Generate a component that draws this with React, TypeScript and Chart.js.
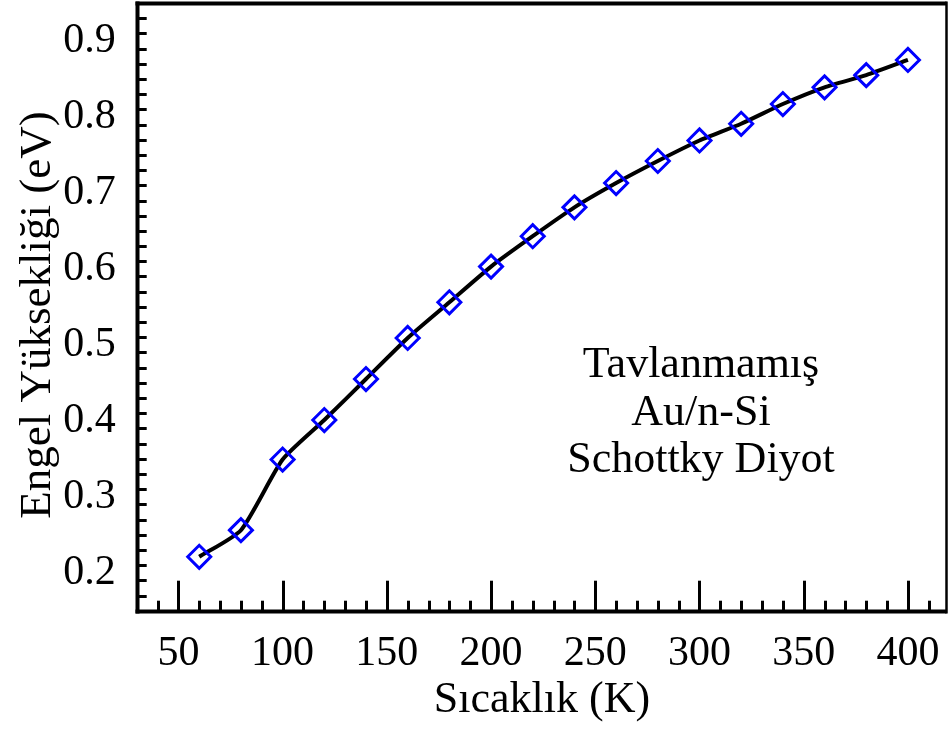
import React, { useEffect, useRef } from 'react';
import { Chart, registerables } from 'chart.js';

Chart.register(...registerables);

// ---- data ----
const temperatures = [60, 80, 100, 120, 140, 160, 180, 200, 220, 240, 260, 280, 300, 320, 340, 360, 380, 400];
const barrierHeights = [0.221, 0.256, 0.349, 0.401, 0.455, 0.509, 0.556, 0.603, 0.643, 0.681, 0.713, 0.742, 0.769, 0.791, 0.817, 0.839, 0.855, 0.875];
const xTickValues = [50, 100, 150, 200, 250, 300, 350, 400];
const yTickValues = [0.2, 0.3, 0.4, 0.5, 0.6, 0.7, 0.8, 0.9];
const xAxisTitle = 'Sıcaklık (K)';
const yAxisTitle = 'Engel Yüksekliği (eV)';
const annotationLines = ['Tavlanmamış', 'Au/n-Si', 'Schottky Diyot'];

const X_MIN = 30;
const X_MAX = 418.6;
const Y_MIN = 0.15;
const Y_MAX = 0.95;
const X_MINOR_STEP = 10;
const Y_MINOR_STEP = 0.02;

const SERIF = '"Liberation Serif", "Times New Roman", serif';

const framePlugin = {
  id: 'framePlugin',
  afterDraw(chart: any) {
    const { ctx, chartArea: ca, scales } = chart;
    const xs = scales.x;
    const ys = scales.y;
    ctx.save();
    ctx.strokeStyle = '#000';
    ctx.lineCap = 'butt';

    // ticks (inward)
    ctx.lineWidth = 3;
    for (let i = 0; X_MIN + i * X_MINOR_STEP <= X_MAX + 1e-9; i++) {
      const v = X_MIN + i * X_MINOR_STEP;
      const isMajor = xTickValues.some((t) => Math.abs(t - v) < 1e-6);
      const px = Math.round(xs.getPixelForValue(v)) + 0.5;
      if (px <= ca.left + 1 || px >= ca.right - 1) continue;
      const len = isMajor ? 30 : 10;
      ctx.beginPath();
      ctx.moveTo(px, ca.bottom);
      ctx.lineTo(px, ca.bottom - len);
      ctx.stroke();
    }
    for (let i = 0; Y_MIN + i * Y_MINOR_STEP <= Y_MAX + 1e-9; i++) {
      const v = Y_MIN + i * Y_MINOR_STEP;
      const isMajor = yTickValues.some((t) => Math.abs(t - v) < 1e-6);
      const py = Math.round(ys.getPixelForValue(v)) + 0.5;
      if (py <= ca.top + 1 || py >= ca.bottom - 1) continue;
      const len = isMajor ? 30 : 10;
      ctx.beginPath();
      ctx.moveTo(ca.left, py);
      ctx.lineTo(ca.left + len, py);
      ctx.stroke();
    }

    // frame
    const L = Math.round(ca.left) + 0.5;
    const R = Math.round(ca.right) - 0.5;
    const T = Math.round(ca.top) + 0.5;
    const B = Math.round(ca.bottom) + 0.5;
    ctx.lineWidth = 4;
    ctx.beginPath();
    ctx.moveTo(L - 2, T);
    ctx.lineTo(R, T);
    ctx.stroke();
    ctx.beginPath();
    ctx.moveTo(L, T - 2);
    ctx.lineTo(L, B + 2);
    ctx.stroke();
    ctx.beginPath();
    ctx.moveTo(L - 2, B);
    ctx.lineTo(R, B);
    ctx.stroke();
    ctx.lineWidth = 2.5;
    ctx.beginPath();
    ctx.moveTo(R, T - 2);
    ctx.lineTo(R, B + 2);
    ctx.stroke();

    // axis titles
    ctx.fillStyle = '#000';
    ctx.font = `44px ${SERIF}`;
    ctx.textAlign = 'center';
    ctx.textBaseline = 'alphabetic';
    ctx.fillText(xAxisTitle, 542, 712);

    ctx.save();
    ctx.translate(50, 315);
    ctx.rotate(-Math.PI / 2);
    ctx.font = `45px ${SERIF}`;
    ctx.fillText(yAxisTitle, 0, 0);
    ctx.restore();

    // annotation
    ctx.font = `44px ${SERIF}`;
    const baselines = [377, 425, 472];
    annotationLines.forEach((t, i) => ctx.fillText(t, 701, baselines[i]));

    ctx.restore();
  },
};

export default function App() {
  const ref = useRef<HTMLCanvasElement | null>(null);

  useEffect(() => {
    if (!ref.current) return;
    const chart = new Chart(ref.current, {
      type: 'line',
      data: {
        datasets: [
          {
            data: temperatures.map((t, i) => ({ x: t, y: barrierHeights[i] })),
            borderColor: '#000',
            borderWidth: 4,
            tension: 0.2,
            pointStyle: 'rectRot',
            pointRadius: 11.5,
            pointBorderColor: '#0000ff',
            pointBorderWidth: 3,
            pointBackgroundColor: 'rgba(0,0,0,0)',
            fill: false,
          },
        ],
      },
      options: {
        animation: false,
        responsive: false,
        devicePixelRatio: 1,
        layout: { autoPadding: false, padding: { top: 3, right: 1.3, left: 0, bottom: 0 } },
        plugins: {
          legend: { display: false },
          tooltip: { enabled: false },
          title: { display: false },
        },
        scales: {
          x: {
            type: 'linear',
            min: X_MIN,
            max: X_MAX,
            border: { display: false },
            grid: { display: false, drawTicks: false },
            afterBuildTicks: (scale: any) => {
              scale.ticks = xTickValues.map((v) => ({ value: v }));
            },
            afterFit: (scale: any) => {
              scale.height = 733 - 610.7;
              scale.paddingLeft = 0;
              scale.paddingRight = 0;
              scale.paddingTop = 0;
              scale.paddingBottom = 0;
            },
            ticks: {
              color: '#000',
              padding: 18,
              maxRotation: 0,
              autoSkip: false,
              font: { family: SERIF, size: 42 },
              callback: (v: any) => String(v),
            },
          },
          y: {
            type: 'linear',
            min: Y_MIN,
            max: Y_MAX,
            border: { display: false },
            grid: { display: false, drawTicks: false },
            afterBuildTicks: (scale: any) => {
              scale.ticks = yTickValues.map((v) => ({ value: v }));
            },
            afterFit: (scale: any) => {
              scale.width = 136.7;
              scale.paddingLeft = 0;
              scale.paddingRight = 0;
              scale.paddingTop = 0;
              scale.paddingBottom = 0;
            },
            ticks: {
              color: '#000',
              padding: 21,
              autoSkip: false,
              font: { family: SERIF, size: 42 },
              callback: (v: any) => Number(v).toFixed(1),
            },
          },
        },
      },
      plugins: [framePlugin],
    } as any);
    return () => chart.destroy();
  }, []);

  return (
    <div style={{ position: 'absolute', left: 0, top: 0, width: 948, height: 733, background: '#fff' }}>
      <canvas ref={ref} width={948} height={733} style={{ width: 948, height: 733, display: 'block' }} />
    </div>
  );
}
